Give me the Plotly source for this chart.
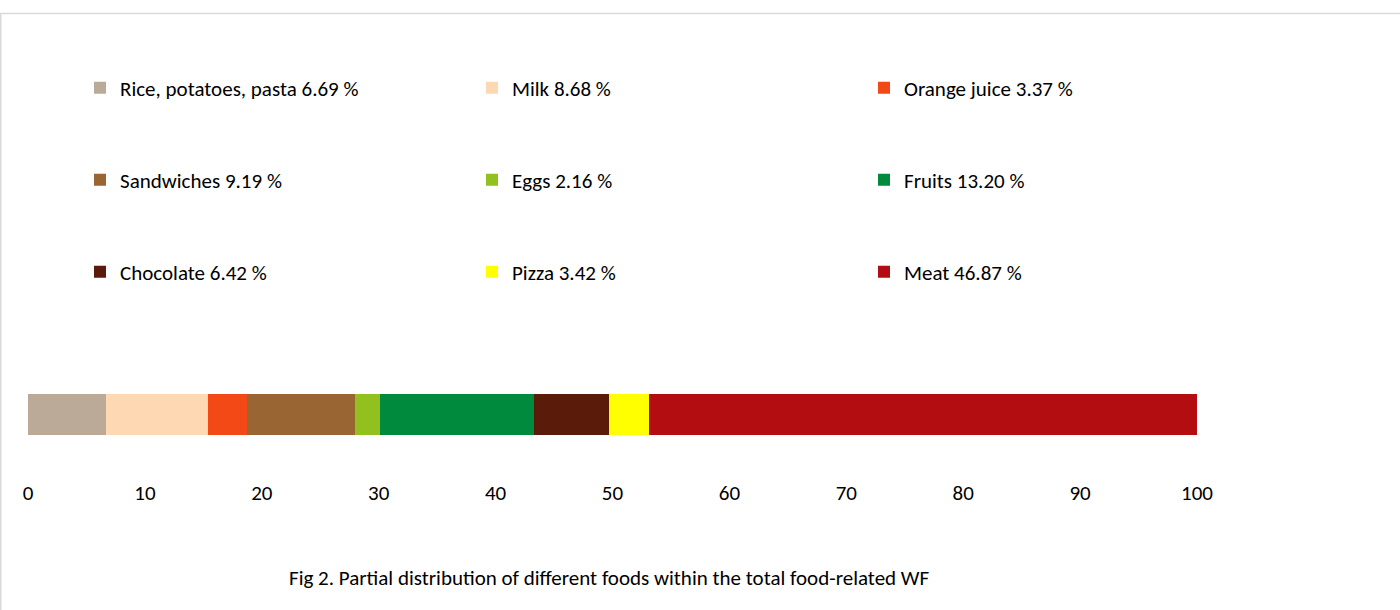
import plotly.graph_objects as go

foods = ["Rice, potatoes, pasta", "Milk", "Orange juice", "Sandwiches", "Eggs",
         "Fruits", "Chocolate", "Pizza", "Meat"]
shares = [6.69, 8.68, 3.37, 9.19, 2.16, 13.20, 6.42, 3.42, 46.87]
colors = ["#BCAA98", "#FED8B2", "#F24916", "#996633", "#92C01F",
          "#008A3E", "#5B1B0B", "#FFFF00", "#B30D11"]
tick_vals = [0, 10, 20, 30, 40, 50, 60, 70, 80, 90, 100]
title_text = "Fig 2. Partial distribution of different foods within the total food-related WF"

FONT = "Carlito, Lato, sans-serif"
W, H = 1400, 610
L = 28                   # x pixel of value 0
X100 = 1197              # x pixel of value 100
R = 1400                 # plot area right edge
T, B = 20, 478           # plot area y pixels
ppu = 41.0               # pixels per y unit (bar thickness)
bar_center = 414.5
xmax = 100.0 * (R - L) / (X100 - L)

def py(pix):
    return (B - pix) / (B - T)

def px(pix):
    return (pix - L) / (R - L)

fig = go.Figure()
legend_rows = [88, 180, 272]
for i, (name, val, col) in enumerate(zip(foods, shares, colors)):
    row = i // 3
    lg = "legend" if row == 0 else f"legend{row + 1}"
    fig.add_trace(go.Bar(
        x=[val], y=[0], orientation="h", name=f"{name} {val:.2f} %",
        marker=dict(color=col, line=dict(width=0)),
        width=1.0, legend=lg, hoverinfo="name",
    ))

legend_common = dict(orientation="h", xanchor="left", yanchor="middle",
                     x=px(80), entrywidth=347, entrywidthmode="pixels",
                     font=dict(family=FONT, size=21, color="#000000"),
                     bgcolor="rgba(0,0,0,0)", traceorder="normal")

fig.update_layout(
    width=W, height=H,
    barmode="stack",
    paper_bgcolor="white", plot_bgcolor="white",
    margin=dict(l=L, r=W - R, t=T, b=H - B, autoexpand=False),
    showlegend=True,
    legend=dict(y=py(legend_rows[0]), **legend_common),
    legend2=dict(y=py(legend_rows[1]), **legend_common),
    legend3=dict(y=py(legend_rows[2]), **legend_common),
    xaxis=dict(range=[0, xmax], tickvals=tick_vals, showgrid=False, zeroline=False,
               showline=False, ticks="", ticklabelstandoff=0,
               tickfont=dict(family=FONT, size=21, color="#000000"), fixedrange=True),
    yaxis=dict(range=[-(B - bar_center) / ppu, (bar_center - T) / ppu],
               showticklabels=False, showgrid=False, zeroline=False, showline=False,
               fixedrange=True),
    shapes=[dict(type="rect", xref="paper", yref="paper",
                 x0=px(0.75), x1=px(1500), y0=py(700), y1=py(13.5),
                 line=dict(color="#D9D9D9", width=1.5), fillcolor="rgba(0,0,0,0)", layer="below")],
    annotations=[dict(text=title_text, xref="paper", yref="paper",
                      x=px(609), y=py(578), xanchor="center", yanchor="middle",
                      showarrow=False, font=dict(family=FONT, size=21, color="#000000"))],
)

fig.write_html("out.html")
